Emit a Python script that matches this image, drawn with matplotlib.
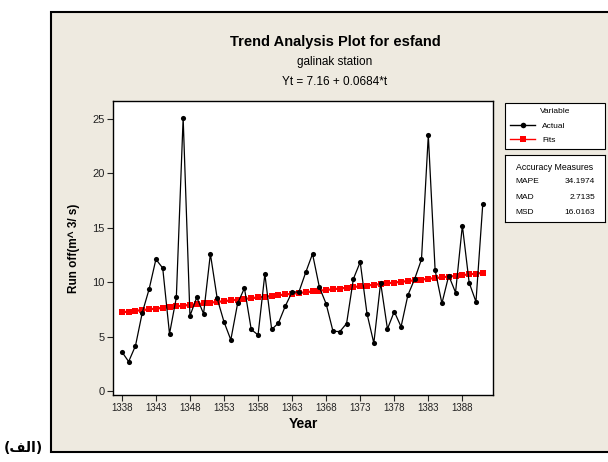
import matplotlib.pyplot as plt
from matplotlib.patches import Rectangle
from matplotlib.lines import Line2D

# data
years = list(range(1338, 1392))
actual = [3.6, 2.7, 4.15, 7.2, 9.35, 12.1, 11.3, 5.25, 8.6, 25.1,
          6.9, 8.6, 7.1, 12.6, 8.5, 6.35, 4.7, 8.05, 9.45, 5.65,
          5.15, 10.75, 5.65, 6.25, 7.8, 9.1, 9.1, 10.9, 12.6, 9.55,
          8.0, 5.5, 5.45, 6.2, 10.3, 11.85, 7.1, 4.4, 9.95, 5.7,
          7.3, 5.9, 8.8, 10.3, 12.1, 23.5, 11.1, 8.05, 10.6, 9.05,
          15.2, 9.95, 8.2, 17.2]
trend_coef = [7.16, 0.0684]  # Yt = 7.16 + 0.0684*t
fits = [trend_coef[0] + trend_coef[1] * t for t in range(1, len(years) + 1)]
year_ticks = list(range(1338, 1389, 5))
y_ticks = [0, 5, 10, 15, 20, 25]
accuracy = [("MAPE", "34.1974"), ("MAD", "2.7135"), ("MSD", "16.0163")]

plt.rcParams['font.family'] = ['Liberation Sans', 'DejaVu Sans']
bg = '#eeeae0'

fig = plt.figure(figsize=(6.08, 4.62), dpi=100, facecolor='white')
fig.patches.append(Rectangle((51 / 608, 1 - 452 / 462), 0.95, 440 / 462,
                             transform=fig.transFigure, facecolor=bg,
                             edgecolor='black', lw=1.5, zorder=-5))

ax = fig.add_axes([113 / 608, 1 - 395 / 462, 380 / 608, 294 / 462])
ax.set_facecolor('white')
ax.plot(years, fits, color='red', lw=1.6, marker='s', markersize=4.0,
        markeredgewidth=0, zorder=2)
ax.plot(years, actual, color='black', lw=0.9, marker='o', markersize=3.7,
        markeredgewidth=0, zorder=3)
ax.set_xlim(1336.7, 1392.5)
ax.set_ylim(-0.37, 26.65)
ax.set_xticks(year_ticks)
ax.set_yticks(y_ticks)
ax.tick_params(direction='out', length=4, width=0.8, labelsize=7, colors='#222222', pad=2)
ax.tick_params(axis='y', labelsize=8)
for s in ax.spines.values():
    s.set_linewidth(1.0)
ax.set_xlabel('Year', fontsize=10, fontweight='bold', labelpad=3)
ax.set_ylabel('Run off(m^ 3/ s)', fontsize=8.5, fontweight='bold', labelpad=9)

fig.text(335 / 608, 1 - 42 / 462, 'Trend Analysis Plot for esfand', ha='center', va='center',
         fontsize=10.5, fontweight='bold')
fig.text(335 / 608, 1 - 62 / 462, 'galinak station', ha='center', va='center', fontsize=8.5)
fig.text(335 / 608, 1 - 82 / 462, 'Yt = 7.16 + 0.0684*t', ha='center', va='center', fontsize=8.5)

# arabic label (visual order, presentation forms)
fig.text(4 / 608, 1 - 448 / 462, '(\ufed2\ufedf\u0627)', ha='left', va='center',
         fontsize=10, fontweight='bold', family=['DejaVu Sans'])

# legend box
handles = [Line2D([], [], color='black', lw=1, marker='o', markersize=4, markeredgewidth=0),
           Line2D([], [], color='red', lw=1, marker='s', markersize=4.5, markeredgewidth=0)]
leg = ax.legend(handles, ['Actual', 'Fits'], title='Variable', loc='upper left',
                bbox_to_anchor=(505 / 608, 1 - 103 / 462, 100 / 608, 0.0),
                bbox_transform=fig.transFigure, mode='expand', fontsize=6,
                title_fontsize=6, fancybox=False, edgecolor='black',
                framealpha=1, handlelength=3, borderpad=0.65, labelspacing=0.75,
                borderaxespad=0)
leg.get_frame().set_linewidth(0.8)

# accuracy box
acc = fig.add_axes([505 / 608, 1 - 222 / 462, 100 / 608, 67 / 462])
acc.set_xticks([])
acc.set_yticks([])
acc.set_xlim(0, 1)
acc.set_ylim(0, 1)
for s in acc.spines.values():
    s.set_linewidth(0.8)
acc.text(0.5, 0.82, 'Accuracy Measures', ha='center', va='center', fontsize=6.3)
for i, (name, val) in enumerate(accuracy):
    yy = 0.6 - i * 0.23
    acc.text(0.1, yy, name, ha='left', va='center', fontsize=6)
    acc.text(0.9, yy, val, ha='right', va='center', fontsize=6)

fig.savefig('out.png', dpi=100, facecolor='white')
